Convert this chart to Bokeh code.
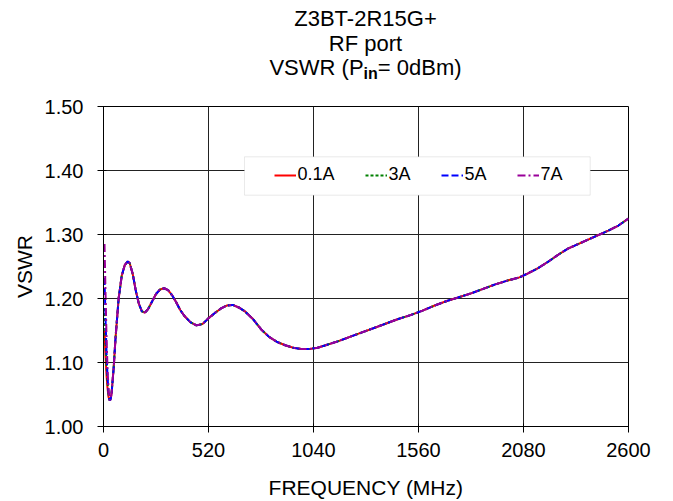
from bokeh.plotting import figure
from bokeh.models import (FixedTicker, PrintfTickFormatter, Legend, LegendItem,
                          BoxAnnotation, Range1d, Div)
from bokeh.layouts import column
from bokeh.embed import file_html
from bokeh.resources import INLINE

# ---- data ----
title_line1 = "Z3BT-2R15G+"
title_line2 = "RF port"
series_names = ["0.1A", "3A", "5A", "7A"]
series_colors = ["#FF0000", "#008000", "#0000FF", "#990099"]
series_dashes = ["solid", "3 2", "7 3", "8 3 2 3"]

freq_head = [5, 10, 15, 20, 25]
vswr_head_01A = [1.150, 1.110, 1.080, 1.060, 1.046]
vswr_head_3A = [1.185, 1.135, 1.095, 1.068, 1.050]
vswr_head_5A = [1.232, 1.170, 1.115, 1.078, 1.053]
vswr_head_7A = [1.285, 1.210, 1.140, 1.090, 1.058]

freq_tail = [30, 35, 40, 50, 60, 75, 90, 105, 120, 130, 145, 160, 175, 190, 205, 220,
             240, 260, 280, 300, 320, 340, 360, 380, 400, 430, 460, 490, 520, 550,
             580, 610, 640, 670, 700, 740, 780, 820, 860, 900, 940, 980, 1020, 1060,
             1100, 1160, 1220, 1280, 1340, 1400, 1460, 1520, 1580, 1640, 1700, 1760,
             1820, 1880, 1940, 2000, 2060, 2100, 2150, 2200, 2250, 2300, 2350, 2400,
             2450, 2500, 2550, 2600]
vswr_tail = [1.041, 1.042, 1.052, 1.090, 1.140, 1.200, 1.235, 1.252, 1.258, 1.255,
             1.238, 1.212, 1.192, 1.180, 1.178, 1.183, 1.195, 1.207, 1.214, 1.216,
             1.213, 1.205, 1.194, 1.182, 1.173, 1.163, 1.158, 1.160, 1.169, 1.177,
             1.184, 1.189, 1.190, 1.186, 1.180, 1.168, 1.152, 1.140, 1.132, 1.127,
             1.123, 1.121, 1.121, 1.123, 1.127, 1.133, 1.140, 1.147, 1.154, 1.161,
             1.168, 1.174, 1.181, 1.189, 1.196, 1.202, 1.208, 1.215, 1.222, 1.228,
             1.233, 1.239, 1.247, 1.257, 1.268, 1.278, 1.285, 1.292, 1.299, 1.306,
             1.314, 1.325]

heads = [vswr_head_01A, vswr_head_3A, vswr_head_5A, vswr_head_7A]

x_ticks = [0, 520, 1040, 1560, 2080, 2600]
y_ticks = [1.00, 1.10, 1.20, 1.30, 1.40, 1.50]

FONT = "Liberation Sans"
TITLE_H = 84
FRAME_TOP = 106

# ---- title block (HTML, with bold subscript) ----
line_style = ("position:absolute;left:365.5px;transform:translateX(-50%);"
              "white-space:nowrap;font-family:Liberation Sans,Arial,sans-serif;font-size:22px;"
              "line-height:normal;color:black;margin:0;padding:0;")
title_html = (
    f'<div style="position:relative;width:673px;height:{TITLE_H}px;margin:0;padding:0;">'
    f'<div style="{line_style}top:6px;">{title_line1}</div>'
    f'<div style="{line_style}top:30.5px;">{title_line2}</div>'
    f'<div style="{line_style}top:55px;">VSWR (P<span style="font-size:16px;'
    f'font-weight:bold;vertical-align:-4px;">in</span>= 0dBm)</div>'
    '</div>'
)
title_div = Div(text=title_html, width=673, height=TITLE_H, margin=0)

p = figure(width=673, height=501 - TITLE_H, output_backend="svg", toolbar_location=None,
           x_range=Range1d(0, 2600), y_range=Range1d(1.0, 1.5),
           min_border_left=103, min_border_right=45, min_border_top=FRAME_TOP - TITLE_H,
           min_border_bottom=75, margin=0)
p.background_fill_color = "white"
p.border_fill_color = "white"
p.outline_line_color = "black"
p.outline_line_width = 1

# axes
for ax in (p.xaxis[0], p.yaxis[0]):
    ax.major_label_text_font = FONT
    ax.major_label_text_font_size = "20px"
    ax.major_label_text_color = "black"
    ax.axis_label_text_font = FONT
    ax.axis_label_text_font_size = "21px"
    ax.axis_label_text_font_style = "normal"
    ax.axis_label_text_color = "black"
    ax.axis_line_color = "black"
    ax.major_tick_line_color = "black"
    ax.minor_tick_line_color = None
    ax.major_tick_out = 6
    ax.major_tick_in = 3

p.xaxis.ticker = FixedTicker(ticks=x_ticks)
p.yaxis.ticker = FixedTicker(ticks=y_ticks)
p.yaxis.formatter = PrintfTickFormatter(format="%.2f")
p.xaxis.axis_label = "FREQUENCY (MHz)"
p.yaxis.axis_label = "VSWR"
p.xaxis.major_label_standoff = 10
p.xaxis.axis_label_standoff = 16
p.yaxis.major_label_standoff = 14
p.yaxis.axis_label_standoff = 6

p.xgrid.grid_line_color = "#222222"
p.ygrid.grid_line_color = "#222222"
p.xgrid.grid_line_width = 1
p.ygrid.grid_line_width = 1

# lines
renderers = []
for name, color, dash, head in zip(series_names, series_colors, series_dashes, heads):
    r = p.line(freq_head + freq_tail, head + vswr_tail, line_color=color,
               line_width=2, line_dash=dash)
    renderers.append(r)

# legend box
box = BoxAnnotation(left=141, right=486.7, top=269.7, bottom=231.3,
                    left_units="screen", right_units="screen",
                    top_units="screen", bottom_units="screen",
                    fill_color="white", fill_alpha=1.0,
                    line_color="#BBBBBB", line_width=1)
p.add_layout(box)

legend = Legend(items=[LegendItem(label=n, renderers=[r]) for n, r in zip(series_names, renderers)],
                orientation="horizontal", location=(165.5, 236),
                padding=5, spacing=30, glyph_width=22, glyph_height=20,
                label_standoff=2, label_text_font=FONT, label_text_font_size="18px",
                label_text_color="black",
                background_fill_alpha=0, border_line_alpha=0, margin=0)
p.add_layout(legend)

layout = column(title_div, p, spacing=0, margin=0)
open("out.html", "w").write(file_html(layout, INLINE))
